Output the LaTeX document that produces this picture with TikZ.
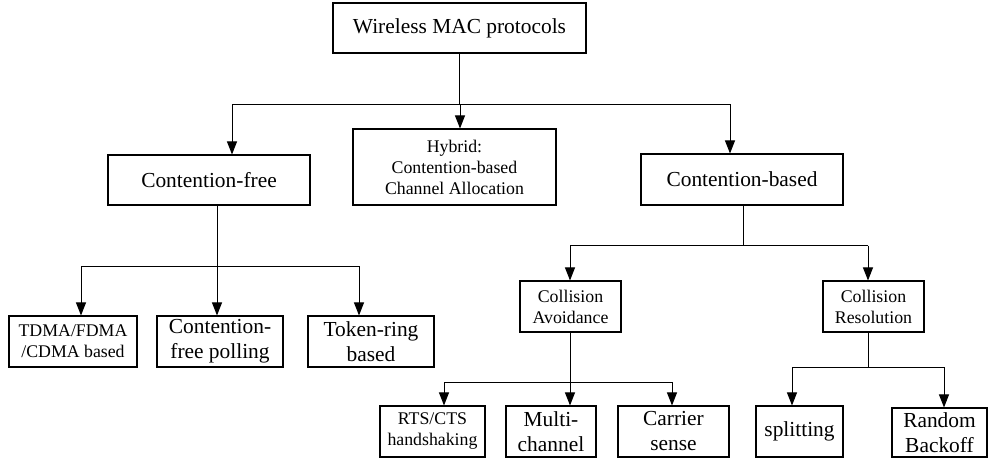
\documentclass[tikz,border=0pt]{standalone}
\usepackage{fontspec}
\setmainfont{Liberation Serif}
\usetikzlibrary{arrows.meta}
\begin{document}
\begin{tikzpicture}[x=1pt,y=-1pt,
  box/.style={draw,line width=1.1pt,inner sep=0pt,align=center,anchor=center},
  big/.style={font=\fontsize{21.4}{25}\selectfont},
  small/.style={font=\fontsize{17.8}{21}\selectfont},
  conn/.style={line width=1pt},
  arr/.style={line width=1pt,-{Triangle[length=13pt,width=10pt]}}]
\useasboundingbox (0,0) rectangle (988,458);
% nodes
\node[box,big,minimum width=253,minimum height=50] (root) at (459.5,28) {Wireless MAC protocols};
\node[box,big,minimum width=202,minimum height=50] (cf) at (209,180) {Contention-free};
\node[box,small,minimum width=203,minimum height=76] (hyb) at (454.5,167) {Hybrid:\\Contention-based\\Channel Allocation};
\node[box,big,minimum width=202,minimum height=51] (cb) at (742,179.5) {Contention-based};
\node[box,small,minimum width=128,minimum height=51] (tdma) at (73,341.5) {TDMA/FDMA\\/CDMA based};
\node[box,big,minimum width=126,minimum height=51] (poll) at (220,341.5) {Contention-\\free polling};
\node[box,big,minimum width=126,minimum height=51] (token) at (371,341.5) {Token-ring\\based};
\node[box,small,minimum width=101,minimum height=51] (ca) at (570.5,306.5) {Collision\\Avoidance};
\node[box,small,minimum width=101,minimum height=51] (cr) at (873.5,306.5) {Collision\\Resolution};
\node[box,small,minimum width=105,minimum height=51] (rts) at (432.5,431.5) {RTS/CTS\\handshaking};
\node[box,big,minimum width=90,minimum height=51] (multi) at (551,431.5) {Multi-\\channel};
\node[box,big,minimum width=111,minimum height=51] (carrier) at (673.5,431.5) {Carrier\\sense};
\node[box,big,minimum width=87,minimum height=51] (split) at (799.5,431.5) {splitting};
\node[box,big,minimum width=95,minimum height=49] (rb) at (939.5,432.5) {Random\\Backoff};
% junction coordinates
\coordinate (j1) at (459.5,104);
\coordinate (a1) at (232,104);
\coordinate (a2) at (730,104);
\coordinate (a3) at (460,104);
\coordinate (b0) at (217,266);
\coordinate (b1) at (81,266);
\coordinate (b3) at (359,266);
\coordinate (c0) at (743,245.7);
\coordinate (c1) at (570,245.7);
\coordinate (c2) at (868,245.7);
\coordinate (d0) at (570,382);
\coordinate (d1) at (444,382);
\coordinate (d3) at (672,382);
\coordinate (e0) at (868,367);
\coordinate (e1) at (792,367);
\coordinate (e2) at (944,367);
% connectors level 1
\draw[conn] (root.south) -- (j1);
\draw[conn] (a1) -- (a2);
\draw[arr] (a1) -- (a1 |- cf.north);
\draw[arr] (a3) -- (a3 |- hyb.north);
\draw[arr] (a2) -- (a2 |- cb.north);
% contention-free
\draw[conn] (b0 |- cf.south) -- (b0);
\draw[conn] (b1) -- (b3);
\draw[arr] (b1) -- (b1 |- tdma.north);
\draw[arr] (b0) -- (b0 |- poll.north);
\draw[arr] (b3) -- (b3 |- token.north);
% contention-based
\draw[conn] (c0 |- cb.south) -- (c0);
\draw[conn] (c1) -- (c2);
\draw[arr] (c1) -- (c1 |- ca.north);
\draw[arr] (c2) -- (c2 |- cr.north);
% collision avoidance
\draw[conn] (d0 |- ca.south) -- (d0);
\draw[conn] (d1) -- (d3);
\draw[arr] (d1) -- (d1 |- rts.north);
\draw[arr] (d0) -- (d0 |- multi.north);
\draw[arr] (d3) -- (d3 |- carrier.north);
% collision resolution
\draw[conn] (e0 |- cr.south) -- (e0);
\draw[conn] (e1) -- (e2);
\draw[arr] (e1) -- (e1 |- split.north);
\draw[arr] (e2) -- (e2 |- rb.north);
\end{tikzpicture}
\end{document}
